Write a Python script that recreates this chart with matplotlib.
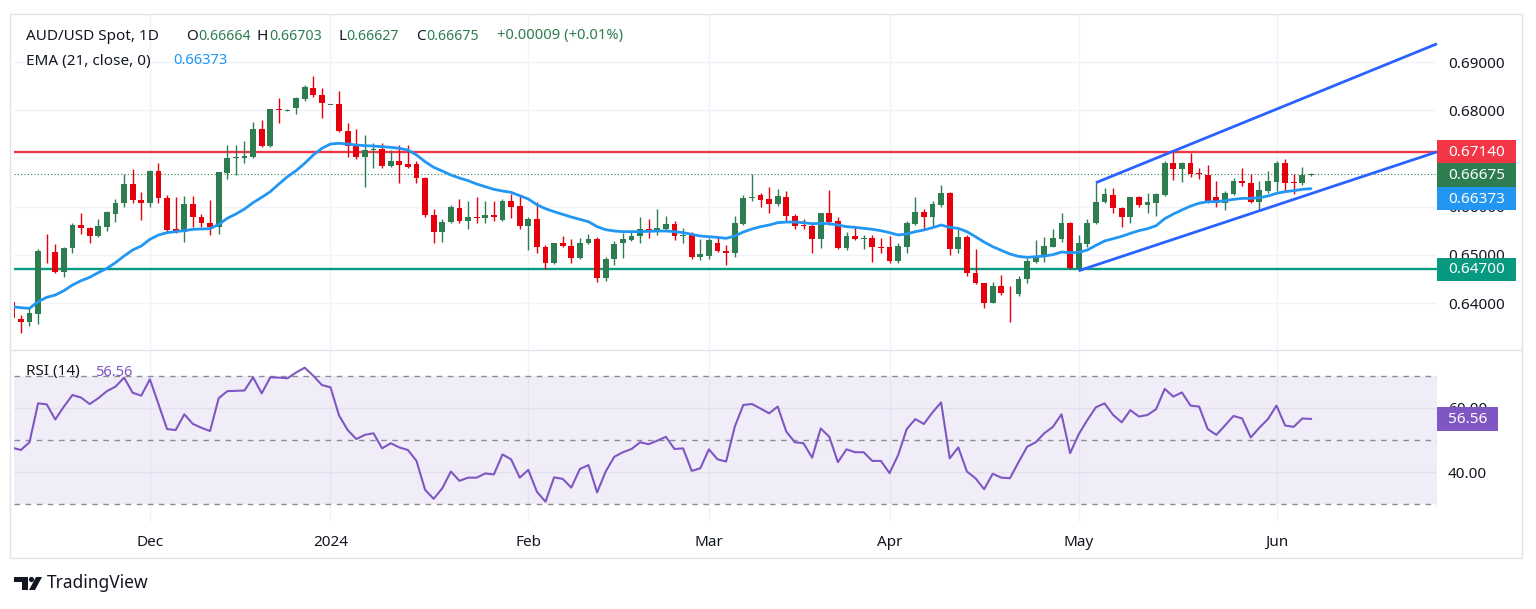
import numpy as np
import pandas as pd
import matplotlib.pyplot as plt
from matplotlib.patches import Rectangle, Polygon, Circle

plt.rcParams['font.family'] = ['Noto Sans', 'DejaVu Sans']

# === Datos (AUD/USD diario) ===
last_day = '2024-06-07'

opens = [0.64027, 0.63661, 0.63613, 0.63772, 0.65086, 0.65065, 0.64650, 0.65134, 0.65618, 0.65549,
         0.65390, 0.65584, 0.65840, 0.66068, 0.66462, 0.66137, 0.66068, 0.66739, 0.66186, 0.65528,
         0.65467, 0.66047, 0.65791, 0.65667, 0.65584, 0.66704, 0.67001, 0.67001, 0.67036, 0.67603,
         0.67257, 0.68018, 0.67990, 0.68039, 0.68225, 0.68467, 0.68315, 0.68108, 0.68128, 0.67575,
         0.67257, 0.67036, 0.67174, 0.67195, 0.66842, 0.66953, 0.66877, 0.66877, 0.66600, 0.65826,
         0.65470, 0.65688, 0.65964, 0.65708, 0.65777, 0.65757, 0.65826, 0.65722, 0.66123, 0.66013,
         0.65605, 0.65736, 0.65155, 0.64823, 0.65238, 0.65183, 0.64927, 0.65238, 0.65321, 0.64512,
         0.64906, 0.65238, 0.65307, 0.65390, 0.65528, 0.65480, 0.65528, 0.65632, 0.65397, 0.65418,
         0.64961, 0.64975, 0.65238, 0.65086, 0.65044, 0.65639, 0.66172, 0.66241, 0.66151, 0.66054,
         0.66206, 0.65805, 0.65618, 0.65597, 0.65321, 0.65860, 0.65701, 0.65134, 0.65390, 0.65328,
         0.65342, 0.65169, 0.65155, 0.64878, 0.65169, 0.65632, 0.65895, 0.65777, 0.66033, 0.66275,
         0.65113, 0.65376, 0.64629, 0.64408, 0.64007, 0.64359, 0.64214, 0.64187, 0.64491, 0.64857,
         0.64975, 0.65169, 0.65321, 0.65653, 0.64719, 0.65224, 0.65653, 0.66102, 0.66240, 0.65964,
         0.65777, 0.66192, 0.66033, 0.66082, 0.66240, 0.66911, 0.66773, 0.66911, 0.66690, 0.66656,
         0.66206, 0.66068, 0.66262, 0.66538, 0.66497, 0.66102, 0.66330, 0.66517, 0.66898, 0.66504,
         0.66483, 0.66664]
highs = [0.64060, 0.63750, 0.63890, 0.65114, 0.65430, 0.65224, 0.65169, 0.65653, 0.65874, 0.65584,
         0.65736, 0.65909, 0.66151, 0.66669, 0.66773, 0.66310, 0.66760, 0.66898, 0.66241, 0.66193,
         0.66220, 0.66220, 0.65839, 0.66137, 0.66725, 0.67278, 0.67278, 0.67368, 0.67762, 0.67797,
         0.68018, 0.68246, 0.68018, 0.68267, 0.68523, 0.68710, 0.68454, 0.68115, 0.68398, 0.67727,
         0.67603, 0.67485, 0.67326, 0.67326, 0.67174, 0.67278, 0.67278, 0.66953, 0.66621, 0.65943,
         0.65736, 0.66034, 0.66150, 0.66123, 0.66206, 0.66116, 0.66116, 0.66150, 0.66255, 0.66220,
         0.65791, 0.66102, 0.65204, 0.65252, 0.65397, 0.65321, 0.65342, 0.65432, 0.65362, 0.64947,
         0.65293, 0.65445, 0.65515, 0.65791, 0.65736, 0.65943, 0.65805, 0.65701, 0.65563, 0.65480,
         0.65321, 0.65342, 0.65362, 0.65204, 0.65805, 0.66241, 0.66676, 0.66275, 0.66400, 0.66358,
         0.66324, 0.65847, 0.65736, 0.65639, 0.65874, 0.66345, 0.65777, 0.65473, 0.65597, 0.65410,
         0.65410, 0.65342, 0.65390, 0.65238, 0.65708, 0.66192, 0.65943, 0.66123, 0.66448, 0.66310,
         0.65528, 0.65411, 0.65127, 0.64422, 0.64443, 0.64581, 0.64353, 0.64560, 0.64927, 0.65307,
         0.65376, 0.65528, 0.65874, 0.65687, 0.65411, 0.65736, 0.66496, 0.66379, 0.66379, 0.65985,
         0.66206, 0.66220, 0.66275, 0.66275, 0.66953, 0.67140, 0.66932, 0.67105, 0.66794, 0.66863,
         0.66538, 0.66331, 0.66586, 0.66794, 0.66676, 0.66538, 0.66745, 0.66953, 0.66981, 0.66676,
         0.66828, 0.66703]
lows = [0.63660, 0.63385, 0.63523, 0.63564, 0.64837, 0.64630, 0.64546, 0.65030, 0.65432, 0.65238,
        0.65376, 0.65501, 0.65688, 0.65985, 0.66082, 0.65722, 0.65999, 0.66068, 0.65460, 0.65446,
        0.65273, 0.65584, 0.65584, 0.65411, 0.65425, 0.66566, 0.66655, 0.66912, 0.67001, 0.67243,
        0.67243, 0.67741, 0.67983, 0.67930, 0.68198, 0.68267, 0.67831, 0.68100, 0.67555, 0.67036,
        0.66981, 0.66414, 0.66794, 0.66794, 0.66828, 0.66483, 0.66808, 0.66497, 0.65778, 0.65252,
        0.65273, 0.65667, 0.65667, 0.65528, 0.65667, 0.65653, 0.65708, 0.65708, 0.65757, 0.65528,
        0.65100, 0.65044, 0.64699, 0.64809, 0.65169, 0.64823, 0.64906, 0.65224, 0.64443, 0.64464,
        0.64788, 0.64927, 0.65293, 0.65238, 0.65342, 0.65411, 0.65515, 0.65307, 0.65252, 0.64906,
        0.64892, 0.64906, 0.65065, 0.64788, 0.64948, 0.65618, 0.66123, 0.65985, 0.65860, 0.66013,
        0.65708, 0.65528, 0.65528, 0.65044, 0.65134, 0.65618, 0.65114, 0.65100, 0.65307, 0.65114,
        0.64858, 0.65044, 0.64823, 0.64837, 0.65030, 0.65618, 0.65515, 0.65597, 0.65999, 0.64996,
        0.65030, 0.64560, 0.64394, 0.63890, 0.63993, 0.64166, 0.63613, 0.64145, 0.64422, 0.64837,
        0.64857, 0.65155, 0.65272, 0.64698, 0.64671, 0.65169, 0.65639, 0.66068, 0.65874, 0.65584,
        0.65667, 0.65985, 0.65860, 0.65805, 0.66220, 0.66552, 0.66517, 0.66621, 0.66566, 0.66081,
        0.65999, 0.65940, 0.66241, 0.66427, 0.66081, 0.65916, 0.66289, 0.66330, 0.66330, 0.66262,
        0.66448, 0.66627]
closes = [0.63680, 0.63613, 0.63786, 0.65086, 0.65072, 0.64650, 0.65134, 0.65618, 0.65549, 0.65390,
          0.65597, 0.65895, 0.66068, 0.66462, 0.66137, 0.66068, 0.66739, 0.66172, 0.65515, 0.65470,
          0.66047, 0.65791, 0.65667, 0.65584, 0.66711, 0.67001, 0.67022, 0.67050, 0.67603, 0.67257,
          0.68018, 0.68004, 0.68004, 0.68246, 0.68474, 0.68315, 0.68156, 0.68110, 0.67575, 0.67257,
          0.67036, 0.67174, 0.67195, 0.66842, 0.66953, 0.66863, 0.66815, 0.66586, 0.65826, 0.65470,
          0.65688, 0.65985, 0.65708, 0.65777, 0.65757, 0.65826, 0.65791, 0.66123, 0.65999, 0.65605,
          0.65736, 0.65155, 0.64823, 0.65238, 0.65190, 0.64927, 0.65252, 0.65321, 0.64512, 0.64906,
          0.65217, 0.65321, 0.65390, 0.65528, 0.65480, 0.65549, 0.65632, 0.65390, 0.65418, 0.64961,
          0.65010, 0.65307, 0.65086, 0.65044, 0.65653, 0.66172, 0.66192, 0.66137, 0.66054, 0.66220,
          0.65805, 0.65605, 0.65597, 0.65321, 0.65860, 0.65687, 0.65134, 0.65390, 0.65328, 0.65349,
          0.65155, 0.65148, 0.64878, 0.65183, 0.65653, 0.65895, 0.65777, 0.66047, 0.66289, 0.65113,
          0.65376, 0.64629, 0.64408, 0.64007, 0.64359, 0.64214, 0.64200, 0.64491, 0.64878, 0.64980,
          0.65182, 0.65342, 0.65667, 0.64719, 0.65238, 0.65653, 0.66102, 0.66261, 0.65964, 0.65777,
          0.66192, 0.66026, 0.66089, 0.66261, 0.66911, 0.66787, 0.66911, 0.66676, 0.66669, 0.66102,
          0.66068, 0.66289, 0.66538, 0.66497, 0.66102, 0.66344, 0.66538, 0.66898, 0.66497, 0.66483,
          0.66666, 0.66675]

ema21 = [0.63924, 0.63903, 0.63889, 0.64028, 0.64118, 0.64166, 0.64256, 0.64374, 0.64463, 0.64533,
         0.64630, 0.64719, 0.64837, 0.64975, 0.65100, 0.65183, 0.65321, 0.65411, 0.65460, 0.65480,
         0.65501, 0.65529, 0.65535, 0.65542, 0.65632, 0.65757, 0.65846, 0.65950, 0.66082, 0.66192,
         0.66310, 0.66469, 0.66621, 0.66746, 0.66898, 0.67071, 0.67209, 0.67299, 0.67313, 0.67299,
         0.67278, 0.67264, 0.67257, 0.67243, 0.67229, 0.67209, 0.67174, 0.67071, 0.66932, 0.66815,
         0.66739, 0.66655, 0.66593, 0.66538, 0.66469, 0.66414, 0.66358, 0.66324, 0.66296, 0.66227,
         0.66158, 0.66040, 0.65957, 0.65895, 0.65840, 0.65784, 0.65736, 0.65687, 0.65584, 0.65521,
         0.65494, 0.65480, 0.65480, 0.65480, 0.65487, 0.65494, 0.65494, 0.65480, 0.65460, 0.65425,
         0.65390, 0.65376, 0.65362, 0.65342, 0.65390, 0.65473, 0.65535, 0.65584, 0.65618, 0.65667,
         0.65680, 0.65680, 0.65667, 0.65646, 0.65653, 0.65646, 0.65618, 0.65584, 0.65570, 0.65549,
         0.65529, 0.65501, 0.65460, 0.65411, 0.65432, 0.65480, 0.65515, 0.65563, 0.65618, 0.65570,
         0.65549, 0.65480, 0.65376, 0.65265, 0.65169, 0.65093, 0.65017, 0.64968, 0.64947, 0.64961,
         0.64975, 0.65003, 0.65058, 0.65044, 0.65051, 0.65099, 0.65196, 0.65286, 0.65335, 0.65383,
         0.65445, 0.65501, 0.65542, 0.65604, 0.65750, 0.65846, 0.65930, 0.66010, 0.66070, 0.66102,
         0.66102, 0.66123, 0.66150, 0.66171, 0.66171, 0.66185, 0.66220, 0.66275, 0.66310, 0.66331,
         0.66358, 0.66373]

rsi14 = [47.6, 46.9, 49.3, 61.4, 61.1, 56.4, 60.4, 64.0, 63.2, 61.2,
         63.0, 65.2, 66.6, 69.4, 64.7, 63.8, 68.9, 61.1, 53.4, 53.1,
         58.0, 55.0, 53.8, 52.8, 63.0, 65.2, 65.3, 65.4, 69.5, 64.5,
         69.5, 69.4, 69.2, 71.0, 72.5, 70.0, 67.1, 66.4, 57.6, 53.1,
         50.3, 51.6, 52.1, 47.4, 49.0, 47.7, 46.9, 43.5, 34.5, 31.7,
         35.0, 40.2, 37.3, 38.3, 38.3, 39.6, 39.3, 45.5, 44.0, 38.3,
         40.7, 33.9, 30.8, 38.4, 37.9, 35.2, 41.0, 42.2, 33.7, 40.2,
         44.8, 46.2, 47.2, 49.3, 48.7, 49.8, 51.0, 47.2, 47.4, 40.4,
         41.2, 47.1, 44.0, 43.3, 54.1, 60.9, 61.2, 59.8, 58.3, 60.4,
         52.6, 49.3, 49.0, 44.5, 53.6, 51.0, 43.1, 47.1, 46.2, 46.2,
         43.5, 43.5, 39.7, 45.3, 53.4, 56.5, 55.0, 58.6, 61.7, 44.3,
         47.7, 40.2, 38.1, 34.7, 39.5, 38.3, 38.1, 43.1, 47.9, 49.3,
         52.1, 54.1, 58.0, 45.9, 51.8, 56.2, 60.2, 61.4, 57.8, 55.5,
         59.3, 57.3, 57.8, 59.6, 65.9, 63.5, 64.8, 60.7, 60.4, 53.4,
         51.6, 54.5, 57.5, 56.7, 50.8, 53.8, 56.5, 60.7, 54.5, 54.1,
         56.7, 56.56]

resistance = 0.67140
support = 0.64700
# lineas del canal: dos puntos de anclaje (fecha, precio), extendidas a la derecha
lower_channel = [('2024-05-01', 0.64670), ('2024-05-30', 0.65913)]
upper_channel = [('2024-05-03', 0.66496), ('2024-05-16', 0.67150)]

price_ticks = [0.64, 0.65, 0.66, 0.68, 0.69]   # 0.67 queda tapado por las etiquetas
rsi_ticks = [40, 60]
month_labels = ['Dec', '2024', 'Feb', 'Mar', 'Apr', 'May', 'Jun']

# === Colores ===
UP = '#2e7d50'
DOWN = '#e5000c'
RED = '#f23645'
TEAL = '#089981'
BLUE = '#2196f3'
TREND = '#2962ff'
PURPLE = '#7e57c2'
GRID = '#f0f3fa'
TXT = '#131722'

W, H = 1536, 609
n = len(closes)
dates = pd.bdate_range(end=last_day, periods=n)
x = np.arange(n)
o, h, l, c = map(np.array, (opens, highs, lows, closes))
up = c >= o
col = np.where(up, UP, DOWN)

month_starts = pd.date_range('2023-12-01', '2024-06-01', freq='MS')
month_idx = [int(np.searchsorted(dates, m)) for m in month_starts]


def frac(px_l, px_t, px_r, px_b):
    return [px_l / W, 1 - px_b / H, (px_r - px_l) / W, (px_b - px_t) / H]


fig = plt.figure(figsize=(W / 100, H / 100), dpi=100)
ax = fig.add_axes(frac(14, 14, 1437, 349))
axr = fig.add_axes(frac(14, 350, 1437, 522), sharex=ax)

ax.set_xlim(0.2, n - 1 + 14.66)
ax.set_ylim(0.63046, 0.69996)
axr.set_ylim(24.5, 78.0)

for a in (ax, axr):
    for s in a.spines.values():
        s.set_visible(False)
    for xi in month_idx:
        a.axvline(xi, color=GRID, lw=1, zorder=0)

# === Panel de precio ===
for t in price_ticks + [0.67]:
    ax.axhline(t, color=GRID, lw=1, zorder=0)
ax.yaxis.tick_right()
ax.set_yticks(price_ticks)
ax.set_yticklabels([f'{t:.5f}' for t in price_ticks])
ax.tick_params(axis='y', length=0, pad=8, labelsize=11, labelcolor=TXT)
ax.tick_params(axis='x', length=0, labelbottom=False)

ax.axhline(resistance, color=RED, lw=1.7, zorder=2)
ax.axhline(support, color=TEAL, lw=1.7, zorder=2)
ax.axhline(closes[-1], color=UP, lw=0.8, ls=(0, (1, 2)), zorder=1)

# velas
ax.vlines(x, l, h, colors=col, lw=1, zorder=3)
body_lo = np.minimum(o, c)
body_h = np.maximum(np.abs(c - o), 0.00012)
ax.bar(x, body_h, bottom=body_lo, width=0.68, color=col, lw=0, zorder=4)

ax.plot(x, ema21, color=BLUE, lw=2, zorder=5, solid_capstyle='round')

x_right = ax.get_xlim()[1]
for anchors in (lower_channel, upper_channel):
    (d0, p0), (d1, p1) = anchors
    i0 = int(np.searchsorted(dates, pd.Timestamp(d0)))
    i1 = int(np.searchsorted(dates, pd.Timestamp(d1)))
    slope = (p1 - p0) / (i1 - i0)
    ax.plot([i0, x_right], [p0, p0 + slope * (x_right - i0)], color=TREND,
            lw=2, zorder=6, solid_capstyle='butt', clip_on=False)

# === Panel RSI ===
axr.axhspan(30, 70, color=PURPLE, alpha=0.1, lw=0, zorder=0)
for t in rsi_ticks:
    axr.axhline(t, color='#e3dfec', lw=1, zorder=1)
for t in (70, 50, 30):
    axr.axhline(t, color='#8a8d96', lw=1, ls=(0, (4, 4)), zorder=2)
axr.plot(x, rsi14, color=PURPLE, lw=1.5, zorder=3)
axr.yaxis.tick_right()
axr.set_yticks(rsi_ticks)
axr.set_yticklabels([f'{t:.2f}' for t in rsi_ticks])
axr.tick_params(axis='y', length=0, pad=8, labelsize=11, labelcolor=TXT)
axr.set_xticks(month_idx)
axr.set_xticklabels(month_labels)
axr.tick_params(axis='x', length=0, pad=9, labelsize=11, labelcolor=TXT)
for lab in axr.get_xticklabels():
    if lab.get_text() == '2024':
        lab.set_fontweight('bold')

# === Capa superior en pixeles: marco, etiquetas y textos ===
ov = fig.add_axes([0, 0, 1, 1], zorder=10)
ov.set_xlim(0, W)
ov.set_ylim(H, 0)
ov.axis('off')
ov.patch.set_alpha(0)

ov.add_patch(Rectangle((10, 14), 1512, 544, fill=False, ec='#e0e3eb', lw=1))
ov.plot([10, 1522], [350, 350], color='#e0e3eb', lw=1)


def py(a, v):
    return H - a.transData.transform((0, v))[1]


def tag(y_top, text, color, width=79, hgt=23.5):
    ov.add_patch(Rectangle((1437, y_top), width, hgt, color=color, lw=0))
    ov.text(1437 + width / 2, y_top + hgt / 2 + 0.5, text, color='white',
            fontsize=11, fontweight='bold', ha='center', va='center')


stack = sorted([(py(ax, resistance), resistance, RED),
                (py(ax, closes[-1]), closes[-1], UP),
                (py(ax, ema21[-1]), ema21[-1], BLUE)])
bottom = -1e9
for cy, v, colr in stack:
    top = max(cy - 11.75, bottom)
    tag(top, f'{v:.5f}', colr)
    bottom = top + 23.5
tag(py(ax, support) - 11.75, f'{support:.5f}', TEAL)
tag(py(axr, rsi14[-1]) - 11.75, f'{rsi14[-1]:.2f}', PURPLE, width=61)

# cabecera (los trozos se encadenan midiendo su ancho)
rend = fig.canvas.get_renderer()


def put(xp, y, s, color, size=11):
    t = ov.text(xp, y, s, color=color, fontsize=size, va='center')
    return xp + t.get_window_extent(rend).width


put(26, 36, 'AUD/USD Spot, 1D', TXT)
ohlc = [('O', opens[-1], 186), ('H', highs[-1], 257), ('L', lows[-1], 338), ('C', closes[-1], 416)]
for k, v, xp in ohlc:
    xe = put(xp, 36, k, TXT)
    put(xe + 0.5, 36, f'{v:.5f}', UP, size=10.2)
chg = closes[-1] - closes[-2]
put(497, 36, f'+{chg:.5f} (+{chg / closes[-2] * 100:.2f}%)', UP, size=10.6)
put(26, 61, 'EMA (21, close, 0)', TXT)
put(173, 61, f'{ema21[-1]:.5f}', BLUE, size=10.6)
put(26, 372, 'RSI (14)', TXT)
put(95, 372, f'{rsi14[-1]:.2f}', PURPLE, size=10.6)

# logo TradingView
ov.add_patch(Polygon([(14, 577), (28, 577), (28, 590), (22, 590), (22, 582), (14, 582)],
                     color=TXT, lw=0))
ov.add_patch(Circle((31.5, 579.5), 2.6, color=TXT, lw=0))
ov.add_patch(Polygon([(36, 577), (42, 577), (35, 590), (29, 590)], color=TXT, lw=0))
ov.text(47, 583.5, 'TradingView', color=TXT, fontsize=12.5, va='center')

fig.savefig('out.png', dpi=100, facecolor='white')
